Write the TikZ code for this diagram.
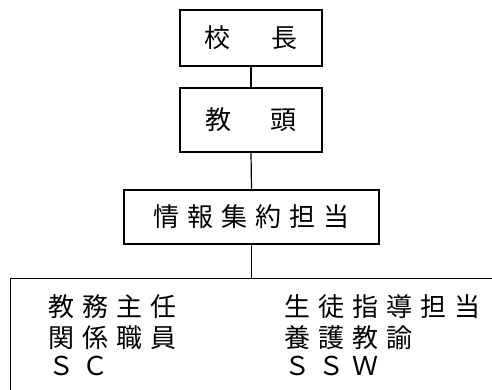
\documentclass[tikz,border=0pt]{standalone}
\usepackage{fontspec}
\newfontfamily\jp{Noto Sans CJK JP}
\newcommand\gk{\kern 8pt}
\tikzset{
  box/.style={draw, line width=1.2pt, inner sep=0pt, font=\jp\fontsize{26}{30}\selectfont},
  row/.style={anchor=west, inner sep=0pt, font=\jp\fontsize{26}{30}\selectfont},
  link/.style={line width=1.2pt}
}
\begin{document}
\begin{tikzpicture}[x=1pt,y=-1pt]
\useasboundingbox (0,0) rectangle (492,390);
\clip (0,0) rectangle (492,390);
\node[box, minimum width=142pt, minimum height=56pt] (kocho) at (251,38) {校\kern42pt 長};
\node[box, minimum width=142pt, minimum height=64pt] (kyoto) at (251,120) {教\kern40pt 頭};
\node[box, minimum width=255pt, minimum height=54pt] (joho) at (251.5,217) {情\gk 報\gk 集\gk 約\gk 担\gk 当};
\node[draw, line width=1.2pt, anchor=north west, minimum width=540pt, minimum height=140pt] (staff) at (10,278) {};
\draw[link] (kocho.south) -- (kyoto.north);
\draw[link] (kyoto.south) -- (joho.north);
\draw[link] (joho.south) -- (joho.south |- staff.north);
\node[row] (a1) at (48,307) {教\gk 務\gk 主\gk 任};
\node[row] (a2) at (48,338) {関\gk 係\gk 職\gk 員};
\node[row] (a3) at (48,366) {Ｓ\gk Ｃ};
\node[row] (b1) at (284,307) {生\gk 徒\gk 指\gk 導\gk 担\gk 当};
\node[row] (b2) at (284,338) {養\gk 護\gk 教\gk 諭};
\node[row] (b3) at (284,366) {Ｓ\gk Ｓ\gk Ｗ};
\end{tikzpicture}
\end{document}
